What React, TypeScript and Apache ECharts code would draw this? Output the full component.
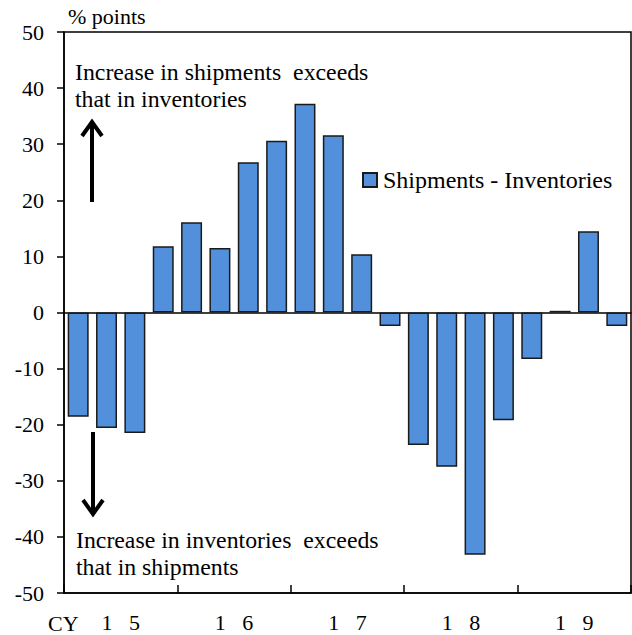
import React, { useEffect, useRef } from "react";
import * as echarts from "echarts";

const quarters = [
  "15Q1", "15Q2", "15Q3", "15Q4",
  "16Q1", "16Q2", "16Q3", "16Q4",
  "17Q1", "17Q2", "17Q3", "17Q4",
  "18Q1", "18Q2", "18Q3", "18Q4",
  "19Q1", "19Q2", "19Q3", "19Q4",
];
const shipmentsMinusInventories = [
  -18.6, -20.6, -21.5, 11.8,
  16.1, 11.5, 26.8, 30.6,
  37.2, 31.6, 10.4, -2.4,
  -23.6, -27.5, -43.2, -19.2,
  -8.3, 0.3, 14.5, -2.4,
];
const yearLabels = ["1   5", "1   6", "1   7", "1   8", "1   9"];
const seriesName = "Shipments - Inventories";

const FONT = "Liberation Serif";

export default function App() {
  const ref = useRef<HTMLDivElement>(null);
  useEffect(() => {
    if (!ref.current) return;
    const chart = echarts.init(ref.current, null, { renderer: "svg" });
    const arrowStyle = { stroke: "#000", lineWidth: 4 };
    const txt = (text: string, size: number, lh = 27) => ({
      text,
      fontFamily: FONT,
      fontSize: size,
      lineHeight: lh,
      fill: "#000",
    });
    chart.setOption({
      animation: false,
      backgroundColor: "#fff",
      textStyle: { fontFamily: FONT, color: "#000" },
      grid: {
        left: 64,
        right: 1,
        top: 32,
        bottom: 42,
        show: true,
        borderColor: "#000",
        borderWidth: 1.5,
        backgroundColor: "transparent",
      },
      legend: {
        show: true,
        left: 357,
        top: 163,
        itemWidth: 14,
        itemHeight: 14,
        itemGap: 6,
        icon: "rect",
        textStyle: { fontFamily: FONT, fontSize: 24, color: "#000", padding: [0, 0, 0, 1] },
        data: [seriesName],
      },
      xAxis: [
        {
          type: "category",
          data: quarters,
          position: "bottom",
          axisLine: { onZero: true, lineStyle: { color: "#000", width: 1.5 } },
          axisTick: { show: false },
          axisLabel: { show: false },
          splitLine: { show: false },
        },
        {
          type: "category",
          data: yearLabels,
          position: "bottom",
          boundaryGap: true,
          axisLine: { show: true, onZero: false, lineStyle: { color: "#000", width: 1.5 } },
          axisTick: { show: true, inside: true, length: 8, lineStyle: { color: "#000", width: 1.5 } },
          axisLabel: {
            show: true,
            fontFamily: FONT,
            fontSize: 22,
            color: "#000",
            margin: 18,
          },
          splitLine: { show: false },
        },
      ],
      yAxis: {
        type: "value",
        min: -50,
        max: 50,
        interval: 10,
        axisLine: { show: true, lineStyle: { color: "#000", width: 1.5 } },
        axisTick: { show: true, inside: false, length: 7, lineStyle: { color: "#000", width: 1.5 } },
        axisLabel: { fontFamily: FONT, fontSize: 22, color: "#000", margin: 20 },
        splitLine: { show: false },
      },
      series: [
        {
          name: seriesName,
          type: "bar",
          xAxisIndex: 0,
          data: shipmentsMinusInventories,
          barCategoryGap: "26%",
          itemStyle: { color: "#5290DB", borderColor: "#1a1a1a", borderWidth: 1.5 },
        },
      ],
      graphic: [
        { type: "text", left: 68, top: 4, style: txt("% points", 22, 24) },
        { type: "text", left: 48, top: 611, style: txt("CY", 22, 24) },
        {
          type: "text",
          left: 75,
          top: 58,
          style: txt("Increase in shipments  exceeds\nthat in inventories", 23.8),
        },
        {
          type: "text",
          left: 76,
          top: 526,
          style: txt("Increase in inventories  exceeds\nthat in shipments", 23.8),
        },
        { type: "line", shape: { x1: 92, y1: 202, x2: 92, y2: 122 }, style: arrowStyle },
        {
          type: "polyline",
          shape: { points: [[82, 136], [92, 122], [102, 136]] },
          style: { ...arrowStyle, fill: null },
        },
        { type: "line", shape: { x1: 93, y1: 432, x2: 93, y2: 513 }, style: arrowStyle },
        {
          type: "polyline",
          shape: { points: [[83, 500], [93, 514], [103, 500]] },
          style: { ...arrowStyle, fill: null },
        },
      ],
    });
    return () => chart.dispose();
  }, []);
  return (
    <div
      ref={ref}
      style={{ position: "fixed", left: 0, top: 0, width: 632, height: 635 }}
    />
  );
}
